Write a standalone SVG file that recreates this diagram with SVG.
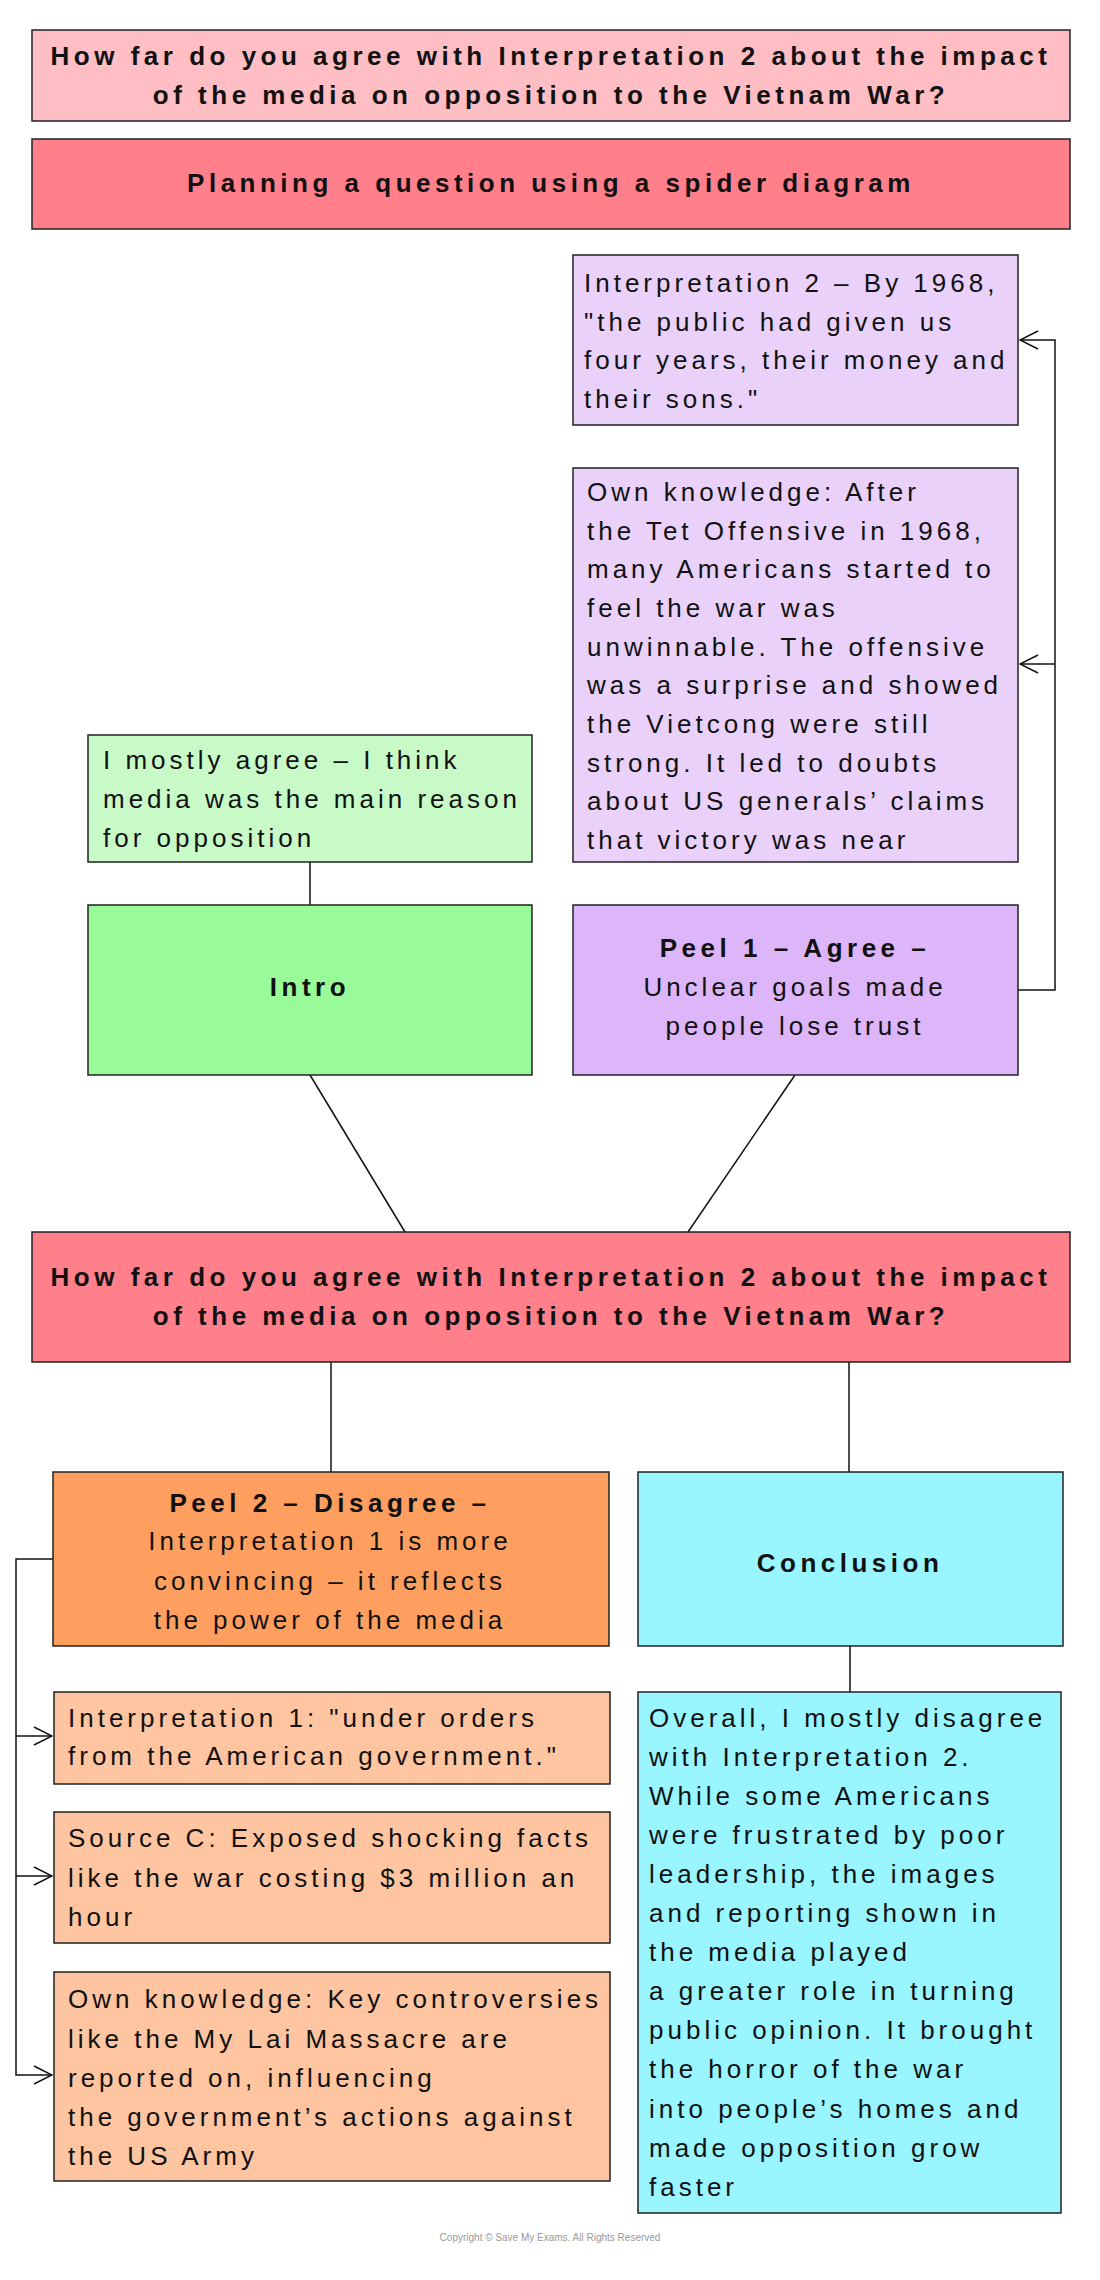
<svg xmlns="http://www.w3.org/2000/svg" width="1100" height="2280" viewBox="0 0 1100 2280">
<style>
rect{stroke:#222;stroke-width:1.5}
text{font-family:"Liberation Sans",Arial,sans-serif;font-size:26px;fill:#111;letter-spacing:4px}
.b{font-weight:bold;letter-spacing:4.5px}
.c{text-anchor:middle}
.ln{stroke:#111;stroke-width:1.5;fill:none}
</style>
<defs><marker id="a" markerWidth="20" markerHeight="20" refX="19" refY="10" orient="auto" markerUnits="userSpaceOnUse"><path d="M1,1 L19,10 L1,19" fill="none" stroke="#111" stroke-width="1.5"/></marker></defs>
<rect width="1100" height="2280" style="fill:#fff;stroke:none"/>
<g id="connectors">
<path class="ln" d="M1018,990 H1055 V340 H1020" marker-end="url(#a)"/>
<path class="ln" d="M1055,664 H1020" marker-end="url(#a)"/>
<line class="ln" x1="310" y1="862" x2="310" y2="905"/>
<line class="ln" x1="310" y1="1075" x2="405" y2="1232"/>
<line class="ln" x1="795" y1="1075" x2="688" y2="1232"/>
<line class="ln" x1="331" y1="1362" x2="331" y2="1472"/>
<line class="ln" x1="849" y1="1362" x2="849" y2="1472"/>
<line class="ln" x1="850" y1="1646" x2="850" y2="1692"/>
<path class="ln" d="M53,1559 H16 V2075 H52" marker-end="url(#a)"/>
<path class="ln" d="M16,1736 H52" marker-end="url(#a)"/>
<path class="ln" d="M16,1876 H52" marker-end="url(#a)"/>
</g>
<g id="title"><rect x="32" y="30" width="1038" height="91" fill="#FFBDC4"/>
<text class="b c" x="551" y="65">How far do you agree with Interpretation 2 about the impact</text>
<text class="b c" x="551" y="104">of the media on opposition to the Vietnam War?</text></g>
<g id="planning"><rect x="32" y="139" width="1038" height="90" fill="#FF7F8A"/>
<text class="b c" x="551" y="192">Planning a question using a spider diagram</text></g>
<g id="interp2"><rect x="573" y="255" width="445" height="170" fill="#E9D1FA"/>
<text x="584" y="292">Interpretation 2 – By 1968,</text>
<text x="584" y="331">"the public had given us</text>
<text x="584" y="369">four years, their money and</text>
<text x="584" y="408">their sons."</text></g>
<g id="ownk1"><rect x="573" y="468" width="445" height="394" fill="#E9D1FA"/>
<text x="587" y="501">Own knowledge: After</text>
<text x="587" y="540">the Tet Offensive in 1968,</text>
<text x="587" y="578">many Americans started to</text>
<text x="587" y="617">feel the war was</text>
<text x="587" y="656">unwinnable. The offensive</text>
<text x="587" y="694">was a surprise and showed</text>
<text x="587" y="733">the Vietcong were still</text>
<text x="587" y="772">strong. It led to doubts</text>
<text x="587" y="810">about US generals’ claims</text>
<text x="587" y="849">that victory was near</text></g>
<g id="agree"><rect x="88" y="735" width="444" height="127" fill="#C8FAC8"/>
<text x="103" y="769">I mostly agree – I think</text>
<text x="103" y="808">media was the main reason</text>
<text x="103" y="847">for opposition</text></g>
<g id="intro"><rect x="88" y="905" width="444" height="170" fill="#98FA98"/>
<text class="b c" x="310" y="996">Intro</text></g>
<g id="peel1"><rect x="573" y="905" width="445" height="170" fill="#DDB5F9"/>
<text class="b c" x="795" y="957">Peel 1 – Agree –</text>
<text class="c" x="795" y="996">Unclear goals made</text>
<text class="c" x="795" y="1035">people lose trust</text></g>
<g id="main"><rect x="32" y="1232" width="1038" height="130" fill="#FF7F8A"/>
<text class="b c" x="551" y="1286">How far do you agree with Interpretation 2 about the impact</text>
<text class="b c" x="551" y="1325">of the media on opposition to the Vietnam War?</text></g>
<g id="peel2"><rect x="53" y="1472" width="556" height="174" fill="#FF9F5F"/>
<text class="b c" x="330" y="1512">Peel 2 – Disagree –</text>
<text class="c" x="330" y="1550">Interpretation 1 is more</text>
<text class="c" x="330" y="1590">convincing – it reflects</text>
<text class="c" x="330" y="1629">the power of the media</text></g>
<g id="conclusion"><rect x="638" y="1472" width="425" height="174" fill="#99F5FF"/>
<text class="b c" x="850" y="1572">Conclusion</text></g>
<g id="interp1"><rect x="54" y="1692" width="556" height="92" fill="#FFC4A0"/>
<text x="68" y="1727">Interpretation 1: "under orders</text>
<text x="68" y="1765">from the American government."</text></g>
<g id="sourcec"><rect x="54" y="1812" width="556" height="131" fill="#FFC4A0"/>
<text x="68" y="1847">Source C: Exposed shocking facts</text>
<text x="68" y="1887">like the war costing $3 million an</text>
<text x="68" y="1926">hour</text></g>
<g id="ownk2"><rect x="54" y="1972" width="556" height="209" fill="#FFC4A0"/>
<text x="68" y="2008">Own knowledge: Key controversies</text>
<text x="68" y="2048">like the My Lai Massacre are</text>
<text x="68" y="2087">reported on, influencing</text>
<text x="68" y="2126">the government’s actions against</text>
<text x="68" y="2165">the US Army</text></g>
<g id="overall"><rect x="638" y="1692" width="423" height="521" fill="#99F5FF"/>
<text x="649" y="1727">Overall, I mostly disagree</text>
<text x="649" y="1766">with Interpretation 2.</text>
<text x="649" y="1805">While some Americans</text>
<text x="649" y="1844">were frustrated by poor</text>
<text x="649" y="1883">leadership, the images</text>
<text x="649" y="1922">and reporting shown in</text>
<text x="649" y="1961">the media played</text>
<text x="649" y="2000">a greater role in turning</text>
<text x="649" y="2039">public opinion. It brought</text>
<text x="649" y="2078">the horror of the war</text>
<text x="649" y="2118">into people’s homes and</text>
<text x="649" y="2157">made opposition grow</text>
<text x="649" y="2196">faster</text></g>
<text class="c" x="550" y="2241" style="font-size:10px;fill:#999;letter-spacing:0">Copyright © Save My Exams. All Rights Reserved</text>
</svg>
